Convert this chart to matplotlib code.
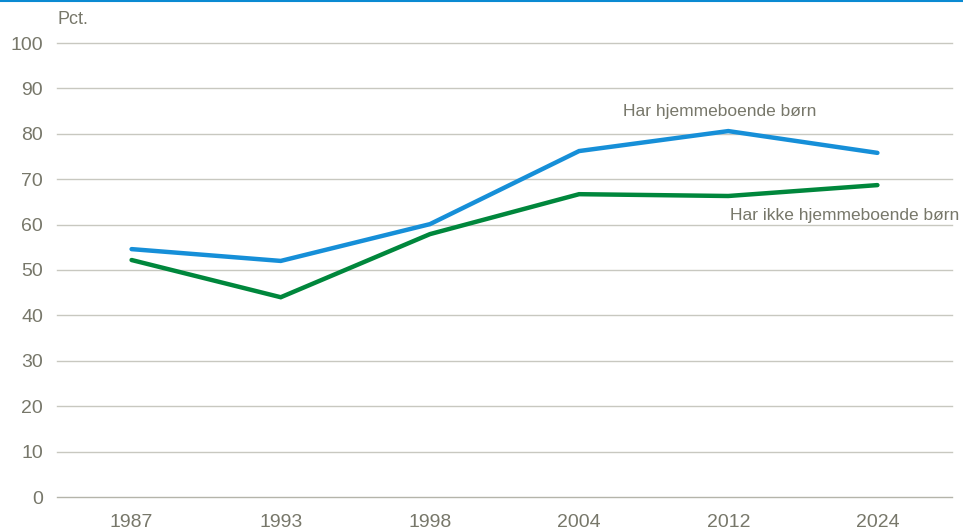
import matplotlib
matplotlib.use("Agg")
import matplotlib.pyplot as plt
from matplotlib import font_manager

years = ["1987", "1993", "1998", "2004", "2012", "2024"]
with_kids = [54.6, 52.0, 60.1, 76.2, 80.6, 75.8]
without_kids = [52.2, 44.0, 57.9, 66.7, 66.3, 68.7]
yticks = [0, 10, 20, 30, 40, 50, 60, 70, 80, 90, 100]

names = {f.name for f in font_manager.fontManager.ttflist}
fam = "Liberation Sans Narrow" if "Liberation Sans Narrow" in names else "Liberation Sans"
plt.rcParams["font.family"] = [fam, "DejaVu Sans"]

TXT = "#77776a"
BLUE = "#168fd8"
GREEN = "#00873c"

fig = plt.figure(figsize=(9.63, 5.32), dpi=100)
ax = fig.add_axes([57 / 963, 35 / 532, 895 / 963, 454 / 532])

x = list(range(len(years)))
ax.plot(x, with_kids, color=BLUE, lw=3.2, solid_capstyle="round", solid_joinstyle="miter")
ax.plot(x, without_kids, color=GREEN, lw=3.2, solid_capstyle="round", solid_joinstyle="miter")

ax.set_xlim(-0.5, len(years) - 0.5)
ax.set_ylim(0, 100)
ax.set_xticks(x)
ax.set_xticklabels(years)
ax.set_yticks(yticks)
ax.tick_params(length=0, labelsize=14, colors=TXT, pad=10)
ax.tick_params(axis="x", pad=12)
ax.grid(axis="y", color="#c8c8c0", lw=1)
for gl in ax.get_ygridlines():
    gl.set_clip_on(False)
ax.get_ygridlines()[0].set_color("#b4b4aa")
ax.set_axisbelow(True)
for s in ax.spines.values():
    s.set_visible(False)

# series labels placed directly on the chart
ax.text(3.94, 85.0, "Har hjemmeboende børn", color=TXT, fontsize=12.5, ha="center", va="center")
ax.text(4.01, 62.0, "Har ikke hjemmeboende børn", color=TXT, fontsize=12.5, ha="left", va="center")
fig.text(57 / 963, 1 - 19 / 532, "Pct.", color=TXT, fontsize=13, ha="left", va="center")

# thin blue line along the top edge
fig.add_artist(plt.Line2D([0, 1], [1 - 1 / 532, 1 - 1 / 532], color="#0a8ad2", lw=1.5))

fig.savefig("out.png", dpi=100)
